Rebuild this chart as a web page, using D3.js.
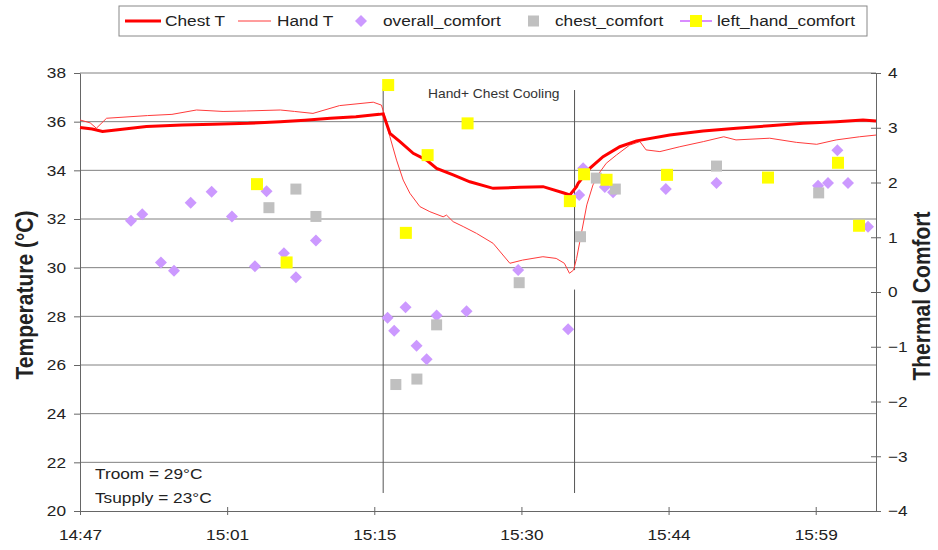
<!DOCTYPE html>
<html>
<head>
<meta charset="utf-8">
<script src="https://cdn.jsdelivr.net/npm/d3@7"></script>
<style>
  body { margin: 0; background: #fff; }
  svg { display: block; font-family: 'Liberation Sans', Arial, sans-serif; }
</style>
</head>
<body>
<svg id="chart" width="938" height="550"></svg>
<script>
// times are minutes after 14:47
const chestTime = [0, 1.2, 2.2, 3.5, 6.5, 10, 13, 16.5, 19.6, 22, 24.5, 27, 29.3, 29.67, 30.33, 31.31, 32.61, 33.92, 34.9, 36.52, 38.15, 40.43, 43.04, 45.32, 47.28, 47.94, 48.59, 48.75, 49.89, 51.19, 52.83, 54.46, 57.72, 60.98, 64.24, 67.5, 70.76, 74.03, 76.63, 77.9];
const chestTemp = [35.76, 35.7, 35.6, 35.66, 35.8, 35.86, 35.89, 35.93, 36.0, 36.06, 36.14, 36.2, 36.3, 36.32, 35.52, 35.18, 34.7, 34.42, 34.08, 33.81, 33.53, 33.26, 33.3, 33.33, 33.08, 32.99, 33.33, 33.47, 34.08, 34.56, 34.97, 35.21, 35.45, 35.62, 35.73, 35.83, 35.93, 36.0, 36.07, 36.03];

const handTime = [0, 1.0, 1.6, 2.6, 6.6, 9, 11.4, 14, 16.3, 19.6, 21, 22.8, 25.4, 28.7, 29.5, 29.84, 30.33, 30.98, 31.63, 32.28, 33.26, 34.24, 35.54, 35.87, 36.52, 37.5, 38.8, 40.43, 42.07, 43.3, 45.3, 46.6, 47.4, 47.9, 48.3, 48.6, 49.1, 49.6, 50.2, 50.9, 51.5, 52.5, 53.8, 54.8, 55.4, 56.75, 58.7, 61, 63, 64.2, 67.5, 70.1, 72.1, 74, 76.3, 77.9];
const handTemp = [36.07, 35.95, 35.73, 36.14, 36.25, 36.3, 36.48, 36.42, 36.44, 36.48, 36.42, 36.34, 36.66, 36.8, 36.68, 36.2, 35.38, 34.42, 33.6, 33.06, 32.51, 32.3, 32.09, 32.16, 31.89, 31.69, 31.41, 31.0, 30.18, 30.31, 30.45, 30.38, 30.18, 29.77, 29.9, 30.38, 31.48, 32.58, 33.4, 33.94, 34.29, 34.63, 35.04, 35.18, 34.84, 34.77, 34.97, 35.18, 35.38, 35.25, 35.32, 35.15, 35.07, 35.25, 35.38, 35.45];

const overallTime = [4.99, 6.09, 7.92, 9.2, 10.83, 12.88, 14.87, 17.12, 18.26, 19.96, 21.13, 23.09, 30.1, 30.75, 31.86, 32.94, 33.92, 34.9, 37.83, 42.88, 47.77, 48.85, 49.24, 51.36, 52.17, 57.33, 62.29, 72.23, 73.2, 74.12, 75.16, 77.12];
const overallComfort = [1.3, 1.42, 0.54, 0.39, 1.63, 1.83, 1.38, 0.47, 1.84, 0.71, 0.27, 0.94, -0.47, -0.71, -0.28, -0.98, -1.23, -0.43, -0.35, 0.4, -0.68, 1.77, 2.26, 1.92, 1.82, 1.88, 1.99, 1.94, 1.99, 2.59, 1.99, 1.19];

const chestCTime = [18.49, 21.13, 23.09, 30.91, 32.97, 34.9, 42.98, 48.98, 50.53, 52.39, 62.29, 72.29];
const chestComfort = [1.54, 1.88, 1.38, -1.69, -1.59, -0.6, 0.17, 1.01, 2.08, 1.88, 2.3, 1.81];

const handCTime = [17.32, 20.22, 30.16, 31.89, 34.02, 37.93, 47.94, 49.33, 51.53, 57.45, 67.33, 74.18, 76.24];
const handComfort = [1.97, 0.54, 3.78, 1.08, 2.5, 3.08, 1.66, 2.15, 2.05, 2.14, 2.09, 2.36, 1.21];

const tempTicks = [20, 22, 24, 26, 28, 30, 32, 34, 36, 38];
const comfortTicks = [-4, -3, -2, -1, 0, 1, 2, 3, 4];
const timeTicks = [0, 14.4, 28.8, 43.2, 57.6, 72];
const timeLabels = ['14:47', '15:01', '15:15', '15:30', '15:44', '15:59'];

const seriesNames = ['Chest T', 'Hand T', 'overall_comfort', 'chest_comfort', 'left_hand_comfort'];
// cooling start / end markers (minutes, temperature spans)
const eventTime = [29.67, 48.4];
const eventSpans = [[[37.35, 20.74]], [[37.3, 29.9], [29.1, 20.74]]];

const SX = 1.15; // the source picture is stretched sideways
const ink = '#222';

const svg = d3.select('#chart');
const x = d3.scaleLinear([0, 77.9], [80, 876]);
const yT = d3.scaleLinear([20, 38], [511, 73]);
const yC = d3.scaleLinear([-4, 4], [511, 73]);

function stretch(sel) {
  sel.each(function () {
    const t = d3.select(this);
    const tx = +t.attr('x') || 0, ty = +t.attr('y') || 0;
    t.attr('x', 0).attr('y', 0).attr('transform', `translate(${tx},${ty}) scale(${SX},1)`);
  });
}

// gridlines
svg.append('g').selectAll('line').data(tempTicks.filter((d) => d > 20)).join('line')
  .attr('x1', 80).attr('x2', 876).attr('y1', (d) => yT(d)).attr('y2', (d) => yT(d))
  .attr('stroke', '#808080').attr('stroke-width', 1);

// axes
const gl = svg.append('g').attr('transform', 'translate(80,0)')
  .call(d3.axisLeft(yT).tickValues(tempTicks).tickSize(6).tickSizeOuter(0).tickPadding(8));
const gr = svg.append('g').attr('transform', 'translate(876,0)')
  .call(d3.axisRight(yC).tickValues(comfortTicks).tickSize(5).tickSizeOuter(0).tickPadding(7));
gr.selectAll('.tick line').attr('x1', -5);
const gb = svg.append('g').attr('transform', 'translate(0,511)')
  .call(d3.axisBottom(x).tickValues(timeTicks).tickFormat((d, i) => timeLabels[i]).tickSize(4).tickSizeOuter(0).tickPadding(14));
gb.selectAll('.tick line').attr('y1', -4);
[gl, gr, gb].forEach((g) => {
  g.select('.domain').attr('stroke', '#666');
  g.selectAll('.tick line').attr('stroke', '#666');
  g.selectAll('text').attr('font-size', 15).attr('fill', ink).attr('font-family', null);
  stretch(g.selectAll('text'));
});

// axis titles
svg.append('text').attr('transform', `translate(25,295) scale(${SX},1) rotate(-90)`)
  .attr('text-anchor', 'middle').attr('dy', '0.35em').attr('font-size', 21).attr('font-weight', 'bold')
  .attr('fill', ink).text('Temperature (°C)');
svg.append('text').attr('transform', `translate(922,296) scale(${SX},1) rotate(-90)`)
  .attr('text-anchor', 'middle').attr('dy', '0.35em').attr('font-size', 21).attr('font-weight', 'bold')
  .attr('fill', ink).text('Thermal Comfort');

// cooling markers
eventTime.forEach((t, i) => {
  eventSpans[i].forEach((s) => {
    svg.append('line').attr('x1', x(t)).attr('x2', x(t)).attr('y1', yT(s[0])).attr('y2', yT(s[1]))
      .attr('stroke', '#555').attr('stroke-width', 1);
  });
});
svg.append('text').attr('x', 428).attr('y', 98).attr('font-size', 12).attr('fill', '#333')
  .text('Hand+ Chest Cooling').call(stretch);

// temperature lines
const line = d3.line().x((d) => x(d[0])).y((d) => yT(d[1]));
svg.append('path').datum(handTime.map((t, i) => [t, handTemp[i]])).attr('d', line)
  .attr('fill', 'none').attr('stroke', '#ff3b3b').attr('stroke-width', 1);
svg.append('path').datum(chestTime.map((t, i) => [t, chestTemp[i]])).attr('d', line)
  .attr('fill', 'none').attr('stroke', '#ff0000').attr('stroke-width', 3);

// comfort markers
const diamond = d3.symbol(d3.symbolSquare, 72)();
svg.append('g').selectAll('path').data(overallTime.map((t, i) => [t, overallComfort[i]])).join('path')
  .attr('d', diamond).attr('transform', (d) => `translate(${x(d[0])},${yC(d[1])}) rotate(45)`)
  .attr('fill', '#cc99ff');
svg.append('g').selectAll('rect').data(chestCTime.map((t, i) => [t, chestComfort[i]])).join('rect')
  .attr('x', (d) => x(d[0]) - 5.5).attr('y', (d) => yC(d[1]) - 5.5).attr('width', 11).attr('height', 11)
  .attr('fill', '#c0c0c0');
svg.append('g').selectAll('rect').data(handCTime.map((t, i) => [t, handComfort[i]])).join('rect')
  .attr('x', (d) => x(d[0]) - 6).attr('y', (d) => yC(d[1]) - 6).attr('width', 12).attr('height', 12)
  .attr('fill', '#ffff00');

// room info
svg.append('text').attr('x', 95).attr('y', 479).attr('font-size', 15).attr('fill', ink).text('Troom = 29°C').call(stretch);
svg.append('text').attr('x', 95).attr('y', 503).attr('font-size', 15).attr('fill', ink).text('Tsupply = 23°C').call(stretch);

// legend
const lg = svg.append('g');
lg.append('rect').attr('x', 119).attr('y', 6).attr('width', 748).attr('height', 30)
  .attr('fill', '#fff').attr('stroke', '#888');
const textX = [165, 277, 383, 555, 717];
const ly = 21;
lg.append('line').attr('x1', 125).attr('x2', 161).attr('y1', ly).attr('y2', ly).attr('stroke', '#ff0000').attr('stroke-width', 3);
lg.append('line').attr('x1', 238).attr('x2', 271).attr('y1', ly).attr('y2', ly).attr('stroke', '#ff3b3b').attr('stroke-width', 1);
lg.append('path').attr('d', diamond).attr('transform', `translate(361,${ly}) rotate(45)`).attr('fill', '#cc99ff');
lg.append('rect').attr('x', 528).attr('y', ly - 5.5).attr('width', 11).attr('height', 11).attr('fill', '#c0c0c0');
lg.append('line').attr('x1', 680).attr('x2', 712).attr('y1', ly).attr('y2', ly).attr('stroke', '#cc66ff').attr('stroke-width', 1.5);
lg.append('rect').attr('x', 690).attr('y', ly - 6).attr('width', 12).attr('height', 12).attr('fill', '#ffff00');
lg.selectAll('text.lab').data(seriesNames).join('text').attr('class', 'lab')
  .attr('x', (d, i) => textX[i]).attr('y', ly).attr('dy', '0.35em').attr('font-size', 15).attr('fill', ink)
  .text((d) => d).call(stretch);
</script>
</body>
</html>
